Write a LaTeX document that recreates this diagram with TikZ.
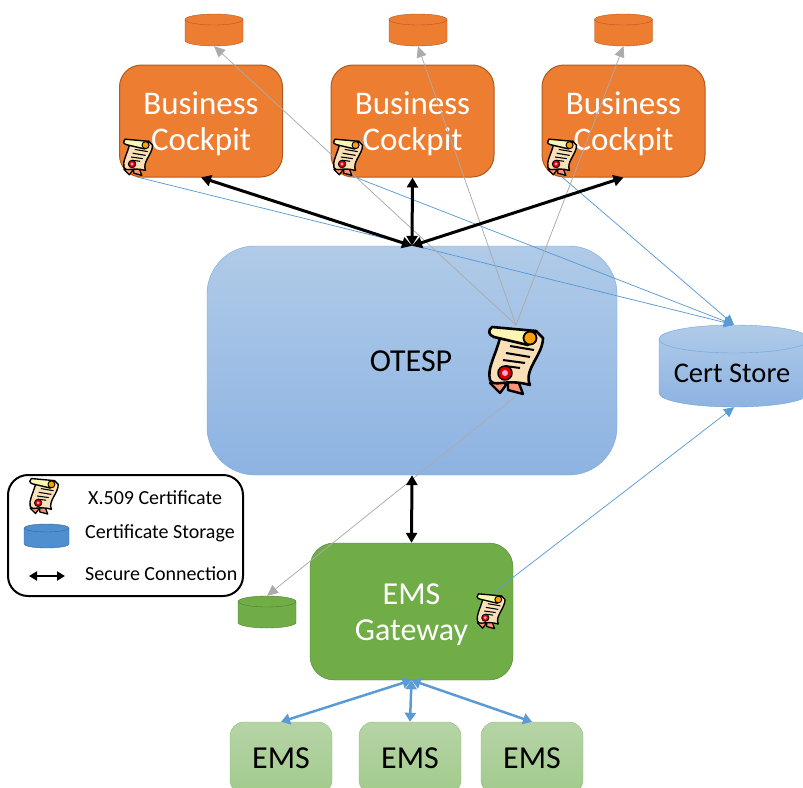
\documentclass[tikz,border=0pt]{standalone}
\usepackage{fontspec}
\setmainfont{Carlito}
\usetikzlibrary{arrows.meta}

\definecolor{orangefill}{HTML}{ED7D31}
\definecolor{orangeline}{HTML}{AE5A21}
\definecolor{greenfill}{HTML}{70AD47}
\definecolor{greenline}{HTML}{507E32}
\definecolor{bluetop}{HTML}{B0CBE8}
\definecolor{bluebottom}{HTML}{8DB3E2}
\definecolor{blueline}{HTML}{5B9BD5}
\definecolor{legendblue}{HTML}{4F8FCF}
\definecolor{emstop}{HTML}{B6D4A6}
\definecolor{emsbottom}{HTML}{A2CB8C}
\definecolor{emsline}{HTML}{8CC070}
\definecolor{greyline}{HTML}{ABABAB}
\definecolor{paper}{HTML}{FAE0B8}
\definecolor{roll}{HTML}{FBF6B4}

\tikzset{
    cockpitbox/.style={draw=orangeline, line width=1, fill=orangefill, rounded corners=22, minimum width=163, minimum height=112},
    boxtext/.style={text=white, align=center, inner sep=0, font=\fontsize{33}{36}\selectfont},
    secure/.style={<->, >={Triangle[length=10,width=11]}, line width=3, black},
    feeder/.style={<->, >={Triangle[length=9,width=11]}, line width=2.5, blueline},
    certlink/.style={->, >={Triangle[length=10,width=10]}, line width=0.75, blueline},
    keylink/.style={->, >={Triangle[length=11,width=10]}, line width=0.75, greyline},
    emsbox/.style={draw=emsline, top color=emstop, bottom color=emsbottom, rounded corners=14, minimum width=102, minimum height=72, font=\fontsize{32}{36}\selectfont},
    legendtext/.style={anchor=west, inner sep=0, font=\fontsize{20}{24}\selectfont},
    pics/certicon/.style={code={
        \begin{scope}[scale=#1, line join=round]
            % Ribbons
            \draw [fill=red!35!paper, line width=#1*2.4] (-13,20) -- (-26,23) -- (-16,33) -- (-10,25) -- cycle;
            \draw [fill=red!35!paper, line width=#1*2.4] (-8,22) -- (-8,30) -- (7,34) -- (1,18) -- cycle;
            % Sheet
            \draw [fill=paper, line width=#1*2.6] (-16,-22) .. controls (-21,-3) and (-29,8) .. (-26,20) .. controls (-22,28) and (-10,18) .. (14,25) .. controls (7,10) and (27,-5) .. (27,-22) -- (20,-29) -- cycle;
            % Writing
            \foreach \xa/\ya/\xb/\yb in {-6/-14/18/-10, -10/-7/14/-3, -13/0/9/3, -11/6/4/8} {
                \draw [line width=#1*2] (\xa,\ya) -- (\xb,\yb);
            }
            % Roll
            \draw [fill=roll, line width=#1*2.6] (-24,-33) .. controls (-28,-30) and (-28,-25) .. (-22,-23) -- (12,-15) -- (20,-29) -- cycle;
            \draw [fill=orange!75!yellow, line width=#1*1.8] (14,-22) circle [radius=6.5];
            % Seal
            \draw [fill=red!85!black, line width=#1*1.5] (-11,13) circle [radius=7];
            \fill [magenta!35!white] (-11,13) circle [radius=3];
        \end{scope}
    }},
}

% Named box with a cylinder drawn over it: name, x, y, half width, half height, cap radius, line, fill
\newcommand{\storagecyl}[8]{
    \node [minimum width=2*#4, minimum height=2*#5, inner sep=0] (#1) at (#2,#3) {};
    \begin{scope}[shift={(#2,#3)}]
        \draw [#7, fill=#8] (-#4,-#5+#6) .. controls (-#4,-#5+0.45*#6) and (-0.55*#4,-#5) .. (0,-#5) .. controls (0.55*#4,-#5) and (#4,-#5+0.45*#6) .. (#4,-#5+#6) -- (#4,#5-#6) .. controls (#4,#5-0.45*#6) and (0.55*#4,#5) .. (0,#5) .. controls (-0.55*#4,#5) and (-#4,#5-0.45*#6) .. (-#4,#5-#6) -- cycle;
        \draw [#7] (-#4,-#5+#6) .. controls (-#4,-#5+1.55*#6) and (-0.55*#4,-#5+2*#6) .. (0,-#5+2*#6) .. controls (0.55*#4,-#5+2*#6) and (#4,-#5+1.55*#6) .. (#4,-#5+#6);
    \end{scope}
}

\begin{document}
\begin{tikzpicture}[x=1pt, y=-1pt]
    \useasboundingbox (0,0) rectangle (803,787);
    \clip (0,0) rectangle (803,787);
    % Draw central service and store
    \node [draw=blueline!70!bluetop, top color=bluetop, bottom color=bluebottom, rounded corners=48, minimum width=410, minimum height=229] (otesp) at (412,360.5) {};
    \node [font=\fontsize{32}{36}\selectfont, inner sep=0] (oteslabel) at (411,361) {OTESP};
    \node [minimum width=150, minimum height=82, inner sep=0] (certstore) at (734,366) {};
    \draw [blueline!80!bluetop, top color=bluetop, bottom color=bluebottom] (659,339) .. controls (659,331) and (693,325) .. (734,325) .. controls (775,325) and (809,331) .. (809,339) -- (809,393) .. controls (809,401) and (775,407) .. (734,407) .. controls (693,407) and (659,401) .. (659,393) -- cycle;
    \draw [blueline!80!bluetop] (659,339) .. controls (659,347) and (693,353) .. (734,353) .. controls (775,353) and (809,347) .. (809,339);
    \node [font=\fontsize{28.5}{32}\selectfont, inner sep=0] (certstorelabel) at (732,373) {Cert Store};
    % Draw cockpits and their stores
    \foreach \name/\x/\dbx in {a/201/214, b/412.5/418, c/623.5/623.5} {
        \node [cockpitbox] (box\name) at (\x,121) {};
        \node [boxtext] (text\name) at (\x,124) {Business\\Cockpit};
        \storagecyl{db\name}{\dbx}{30}{29}{16}{5.5}{orangeline}{orangefill}
    }
    % Draw gateway and EMS boxes
    \node [draw=greenline, fill=greenfill, rounded corners=24, minimum width=203, minimum height=137] (gateway) at (411.5,611.5) {};
    \node [boxtext, font=\fontsize{32}{36}\selectfont] (gatewaytext) at (411.5,615) {EMS\\Gateway};
    \storagecyl{dbgate}{267}{612}{29}{16}{5.5}{greenline}{greenfill}
    \node [emsbox] (emsa) at (281,758) {EMS};
    \node [emsbox] (emsb) at (410,758) {EMS};
    \node [emsbox] (emsc) at (532,758) {EMS};
    % Free ends of the certificate lines
    \coordinate (certa) at (138,157);
    \coordinate (certb) at (348,157);
    \coordinate (certc) at (562,157);
    \coordinate (certgate) at (491,611);
    \coordinate (certmain) at (516,360);
    \coordinate (maintop) at (516,325);
    \coordinate (mainlow) at (516,396);
    \coordinate (linka) at (137,177);
    \coordinate (linkb) at (347,174);
    \coordinate (linkc) at (562,177);
    \coordinate (linkgate) at (494,592);
    % Draw certificate lines
    \draw [certlink] (linka) -- (certstore.north);
    \draw [certlink] (linkb) -- (certstore.north);
    \draw [certlink] (linkc) -- (certstore.north);
    \draw [certlink] (linkgate) -- (certstore.south);
    % Draw key lines
    \foreach \name in {a,b,c} {
        \draw [keylink] (maintop) -- (db\name.south);
    }
    \draw [keylink] (mainlow) -- (dbgate.north);
    % Draw secure connections
    \foreach \name in {a,b,c} {
        \draw [secure] (otesp.north) -- (box\name.south);
    }
    \draw [secure] (otesp.south) -- (gateway.north);
    \foreach \name in {a,b,c} {
        \draw [feeder] (gateway.south) -- (ems\name.north);
    }
    % Draw certificates
    \pic at (certa) {certicon=0.54};
    \pic at (certb) {certicon=0.54};
    \pic at (certc) {certicon=0.54};
    \pic at (certgate) {certicon=0.52};
    \pic at (certmain) {certicon=1};
    % Draw legend
    \node [draw, fill=white, line width=2, rounded corners=20, minimum width=235, minimum height=121] (legend) at (125.5,535.5) {};
    \pic at (44,496) {certicon=0.53};
    \storagecyl{dblegend}{46.5}{536}{22.5}{12}{4}{legendblue!70!black}{legendblue}
    \node [legendtext] (legendcert) at (88,498) {X.509 Certificate};
    \node [legendtext] (legendstore) at (85,533) {Certificate Storage};
    \node [legendtext] (legendconn) at (85,574) {Secure Connection};
    \coordinate (legendl) at (29,576);
    \coordinate (legendr) at (65,576);
    \draw [<->, >={Triangle[length=8,width=9]}, line width=2] (legendl) -- (legendr);
\end{tikzpicture}
\end{document}
